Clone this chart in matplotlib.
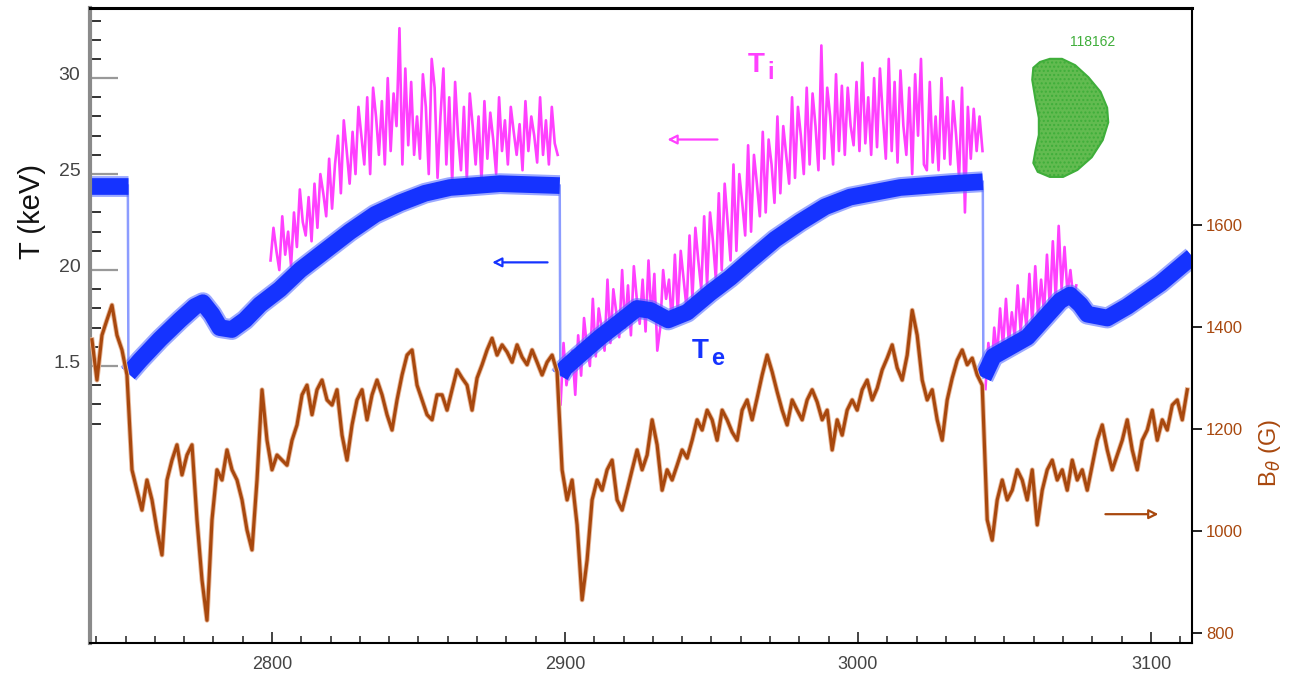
import numpy as np
import matplotlib
matplotlib.use("Agg")
import matplotlib.pyplot as plt
from matplotlib.patches import Polygon
from matplotlib.ticker import FixedLocator
import matplotlib.transforms as mtrans

plt.rcParams['font.family'] = ['Liberation Sans', 'DejaVu Sans']

# ---------------- data ----------------
# Te (keV) knots, split into segments between sawtooth crashes
te_seg1_x = [2737.9, 2750.8]
te_seg1_T = [2.44, 2.44]
te_seg2_x = [2751.0, 2755.0, 2761.8, 2768.6, 2773.7, 2776.4, 2779.5, 2782.2, 2786.3, 2790.8,
             2795.9, 2802.7, 2809.6, 2818.1, 2826.6, 2835.2, 2843.7, 2852.2, 2860.8, 2877.8, 2898.2]
te_seg2_T = [1.46, 1.53, 1.64, 1.74, 1.81, 1.83, 1.77, 1.70, 1.69, 1.74,
             1.82, 1.90, 2.00, 2.10, 2.20, 2.29, 2.35, 2.40, 2.43, 2.45, 2.44]
te_seg3_x = [2898.4, 2900.0, 2905.2, 2912.0, 2918.8, 2924.6, 2929.1, 2935.2, 2941.7, 2949.5,
             2956.4, 2963.2, 2971.7, 2980.3, 2988.8, 2997.3, 3014.4, 3031.5, 3042.6]
te_seg3_T = [1.45, 1.49, 1.56, 1.65, 1.73, 1.80, 1.79, 1.74, 1.78, 1.88,
             1.96, 2.05, 2.16, 2.25, 2.33, 2.38, 2.43, 2.45, 2.46]
te_seg4_x = [3042.8, 3046.2, 3057.8, 3069.0, 3072.4, 3075.9, 3078.3, 3085.1, 3091.9, 3103.2, 3114.1]
te_seg4_T = [1.44, 1.55, 1.65, 1.84, 1.87, 1.82, 1.77, 1.75, 1.81, 1.93, 2.07]

# Ti (keV), sampled every 1 ms in each sawtooth cycle
ti1_start = 2799.5
ti1_T = [2.05, 2.22, 2.10, 2.00, 2.28, 2.08, 2.20,
         2.02, 2.30, 2.12, 2.42, 2.25, 2.18, 2.38,
         2.15, 2.45, 2.22, 2.50, 2.40, 2.28, 2.58,
         2.32, 2.55, 2.70, 2.40, 2.78, 2.62, 2.45,
         2.72, 2.50, 2.85, 2.70, 2.55, 2.90, 2.50,
         2.95, 2.80, 2.60, 2.88, 2.55, 3.00, 2.62,
         2.92, 2.75, 3.26, 2.55, 3.05, 2.65, 2.98,
         2.60, 2.80, 2.58, 3.02, 2.85, 2.50, 3.10,
         2.95, 2.48, 2.80, 3.05, 2.55, 2.90, 2.45,
         2.98, 2.70, 2.52, 2.85, 2.47, 2.92, 2.75,
         2.55, 2.80, 2.46, 2.88, 2.58, 2.82, 2.68,
         2.50, 2.90, 2.62, 2.78, 2.55, 2.85, 2.72,
         2.60, 2.76, 2.52, 2.88, 2.62, 2.80, 2.70,
         2.56, 2.90, 2.60, 2.78, 2.55, 2.85, 2.66,
         2.60]
ti2_start = 2898.5
ti2_T = [1.30, 1.62, 1.40, 1.50, 1.58, 1.35, 1.66,
         1.45, 1.75, 1.60, 1.50, 1.85, 1.55, 1.80,
         1.70, 1.58, 1.95, 1.62, 1.90, 1.78, 1.65,
         2.00, 1.70, 1.92, 1.66, 2.02, 1.85, 1.72,
         1.95, 1.68, 2.05, 1.75, 1.98, 1.58, 1.70,
         2.00, 1.85, 1.95, 1.72, 2.08, 1.78, 2.10,
         1.95, 1.80, 2.18, 1.85, 2.22, 2.05, 1.90,
         2.28, 1.92, 2.30, 2.15, 1.95, 2.40, 2.00,
         2.45, 2.25, 2.05, 2.55, 2.10, 2.50, 2.35,
         2.18, 2.65, 2.20, 2.60, 2.45, 2.28, 2.72,
         2.30, 2.68, 2.55, 2.35, 2.80, 2.40, 2.75,
         2.60, 2.45, 2.90, 2.48, 2.85, 2.70, 2.50,
         2.95, 2.55, 2.92, 2.75, 2.52, 3.17, 2.58,
         2.95, 2.80, 2.55, 3.02, 2.62, 2.96, 2.60,
         2.95, 2.75, 2.65, 2.98, 2.62, 3.08, 2.66,
         2.90, 2.60, 3.00, 2.64, 3.05, 2.80, 2.58,
         3.10, 2.62, 2.98, 2.56, 3.04, 2.75, 2.60,
         2.95, 2.50, 3.02, 2.70, 3.10, 2.55, 2.52,
         2.98, 2.56, 2.80, 2.52, 3.00, 2.58, 2.90,
         2.55, 2.88, 2.70, 2.48, 2.95, 2.30, 2.85,
         2.58, 2.84, 2.62, 2.80, 2.62]
ti3_start = 3043.5
ti3_T = [1.38, 1.62, 1.45, 1.70, 1.55, 1.80, 1.60, 1.85,
         1.62, 1.78, 1.65, 1.92, 1.68, 1.85, 1.70, 1.98,
         1.72, 2.02, 1.75, 1.95, 1.78, 2.08, 1.80, 2.15,
         1.85, 2.23, 1.90, 2.12, 1.88, 2.00, 1.85, 1.92]

# B_theta (G), sampled every 1.707 ms starting at 2738.55
b_start = 2738.55
b_step = 1.707
b_G = [1375, 1296, 1384, 1414, 1443, 1384, 1355, 1306, 1120, 1080,
       1041, 1100, 1061, 1002, 953, 1100, 1139, 1169, 1110, 1149,
       1169, 1022, 904, 825, 1022, 1120, 1100, 1159, 1120, 1100,
       1061, 1002, 963, 1100, 1277, 1178, 1120, 1149, 1139, 1129,
       1178, 1208, 1267, 1286, 1228, 1277, 1296, 1257, 1247, 1277,
       1188, 1139, 1208, 1257, 1277, 1218, 1267, 1296, 1267, 1228,
       1198, 1257, 1306, 1345, 1355, 1286, 1257, 1228, 1218, 1267,
       1267, 1237, 1277, 1316, 1300, 1286, 1237, 1300, 1326, 1355,
       1378, 1345, 1365, 1351, 1331, 1365, 1341, 1326, 1355, 1331,
       1306, 1331, 1345, 1312, 1120, 1061, 1100, 1012, 865, 943,
       1061, 1100, 1080, 1120, 1139, 1061, 1041, 1080, 1120, 1159,
       1120, 1149, 1218, 1169, 1080, 1120, 1100, 1129, 1159, 1143,
       1178, 1218, 1198, 1237, 1218, 1178, 1237, 1218, 1194, 1178,
       1237, 1257, 1218, 1261, 1306, 1345, 1312, 1273, 1237, 1208,
       1257, 1237, 1218, 1257, 1277, 1253, 1218, 1237, 1159, 1218,
       1188, 1237, 1257, 1237, 1277, 1296, 1257, 1280, 1316, 1339,
       1365, 1320, 1296, 1345, 1433, 1384, 1296, 1257, 1277, 1218,
       1178, 1257, 1300, 1335, 1355, 1326, 1339, 1306, 1286, 1022,
       982, 1061, 1100, 1061, 1080, 1120, 1100, 1061, 1120, 1012,
       1080, 1120, 1139, 1100, 1120, 1080, 1139, 1100, 1120, 1080,
       1129, 1178, 1208, 1159, 1120, 1149, 1178, 1218, 1159, 1120,
       1178, 1198, 1237, 1178, 1218, 1198, 1247, 1257, 1218, 1277]

x_major = [2800, 2900, 3000, 3100]
x_labels = ["2800", "2900", "3000", "3100"]
t_major = [1.5, 2.0, 2.5, 3.0]
t_labels = ["1.5", "20", "25", "30"]
b_major = [800, 1000, 1200, 1400, 1600]
b_labels = ["800", "1000", "1200", "1400", "1600"]

# ---------------- style ----------------
C_TE = '#1533ff'
C_TE_LIGHT = '#8c9cff'
C_TI = '#ff40ff'
C_B = '#a8480e'
C_GREEN = '#3fae3a'

fig = plt.figure(figsize=(12.92, 6.75), dpi=100)
ax = fig.add_axes([0.0697, 0.0474, 0.8529, 0.9407])
ax2 = ax.twinx()

XL = (2737.9, 3114.0)
ax.set_xlim(*XL)
ax.set_ylim(0.057, 3.365)
ax2.set_ylim(780.4, 2025.5)

# Ti
for start, vals in [(ti1_start, ti1_T), (ti2_start, ti2_T), (ti3_start, ti3_T)]:
    xs = start + np.arange(len(vals))
    ax.plot(xs, vals, color=C_TI, lw=1.9, zorder=2)

# Te: thick band with thin crash connectors
segs = [(te_seg1_x, te_seg1_T), (te_seg2_x, te_seg2_T), (te_seg3_x, te_seg3_T), (te_seg4_x, te_seg4_T)]
for i in range(len(segs) - 1):
    ax.plot([segs[i][0][-1], segs[i + 1][0][0]], [segs[i][1][-1], segs[i + 1][1][0]],
            color=C_TE_LIGHT, lw=1.8, zorder=3)
for xs, ts in segs:
    ax.plot(xs, ts, color='#5a70ff', lw=15, solid_joinstyle='round', solid_capstyle='butt',
            zorder=4, alpha=0.6)
    ax.plot(xs, ts, color=C_TE, lw=12, solid_joinstyle='round', solid_capstyle='butt', zorder=4)

# B theta
bx = b_start + b_step * np.arange(len(b_G))
ax2.plot(bx, b_G, color='#e8b89a', lw=3.6, zorder=5)
ax2.plot(bx, b_G, color=C_B, lw=2.3, zorder=5)

# ---------------- axes styling ----------------
for s in ['left', 'right', 'top', 'bottom']:
    ax.spines[s].set_visible(False)
ax2.spines['left'].set_color('#8a8a8a')
ax2.spines['left'].set_linewidth(3)
ax2.spines['top'].set_linewidth(2.2)
ax2.spines['right'].set_linewidth(1.5)
ax2.spines['bottom'].set_linewidth(1.5)

ax.xaxis.set_major_locator(FixedLocator(x_major))
ax.set_xticklabels(x_labels)
ax.xaxis.set_minor_locator(FixedLocator([v for v in range(2740, 3114, 10) if v % 100]))
ax.tick_params(axis='x', which='major', direction='in', length=8, width=1.2, color='#222222',
               labelsize=13, labelcolor='#444444', pad=9)
ax.tick_params(axis='x', which='minor', direction='in', length=5, width=1.2, color='#333333')
ax.tick_params(axis='x', top=False, which='both')

ax.yaxis.set_major_locator(FixedLocator(t_major))
ax.set_yticklabels(t_labels)
ax.yaxis.set_minor_locator(FixedLocator([round(1.2 + 0.1 * k, 1) for k in range(22)]))
ax.tick_params(axis='y', which='major', direction='in', length=20, width=1.6, color='#999999',
               labelsize=14, labelcolor='#444444', pad=7)
ax.tick_params(axis='y', which='minor', direction='in', length=8, width=1.4, color='#333333')
off = mtrans.ScaledTranslation(0, 0.05, fig.dpi_scale_trans)
for lab in ax.get_yticklabels():
    lab.set_transform(lab.get_transform() + off)

ax2.yaxis.set_major_locator(FixedLocator(b_major))
ax2.set_yticklabels(b_labels)
ax2.yaxis.set_minor_locator(FixedLocator([]))
ax2.tick_params(axis='y', which='major', direction='out', length=7, width=1.4, color='#222222',
                labelsize=12, labelcolor=C_B, pad=3)

ax.text(-0.053, 0.679, 'T (keV)', transform=ax.transAxes, rotation=90, fontsize=21,
        color='#111111', ha='center', va='center')
ax2.text(1.071, 0.299, r'B$_\theta$ (G)', transform=ax2.transAxes, rotation=90, fontsize=17,
         color=C_B, ha='center', va='center')

# ---------------- annotations ----------------
ax.text(2965.3, 3.07, 'T', color=C_TI, fontsize=20, fontweight='bold', ha='center', va='center')
ax.text(2970.3, 3.03, 'i', color=C_TI, fontsize=17, fontweight='bold', ha='center', va='center')
ax.text(2946.2, 1.58, 'T', color=C_TE, fontsize=20, fontweight='bold', ha='center', va='center')
ax.text(2952.0, 1.54, 'e', color=C_TE, fontsize=17, fontweight='bold', ha='center', va='center')

ax.annotate('', xy=(2934.0, 2.68), xytext=(2953.0, 2.68),
            arrowprops=dict(arrowstyle='-|>', color=C_TI, lw=1.6, mutation_scale=14, fc='white'))
ax.annotate('', xy=(2874.2, 2.04), xytext=(2895.0, 2.04),
            arrowprops=dict(arrowstyle='-|>', color=C_TE, lw=1.6, mutation_scale=14, fc='white'))
ax2.annotate('', xy=(3103.5, 1033), xytext=(3083.5, 1033),
             arrowprops=dict(arrowstyle='-|>', color=C_B, lw=1.6, mutation_scale=14, fc='white'))

# plasma cross-section inset (decoration, axes fraction)
shape = [(0.862, 0.915), (0.871, 0.920), (0.882, 0.920), (0.894, 0.910), (0.906, 0.891),
         (0.917, 0.868), (0.923, 0.843), (0.924, 0.820), (0.919, 0.792), (0.909, 0.765),
         (0.896, 0.745), (0.883, 0.734), (0.871, 0.734), (0.860, 0.742), (0.856, 0.756),
         (0.858, 0.776), (0.861, 0.800), (0.861, 0.827), (0.858, 0.855), (0.855, 0.887),
         (0.856, 0.906)]
ax2.add_patch(Polygon(shape, closed=True, transform=ax2.transAxes, facecolor='#62bb50',
                      edgecolor=C_GREEN, lw=1.5, zorder=6, hatch='....'))
ax2.text(0.910, 0.946, '118162', transform=ax2.transAxes, color=C_GREEN, fontsize=10,
         ha='center', va='center')

fig.savefig('out.png', dpi=100)
